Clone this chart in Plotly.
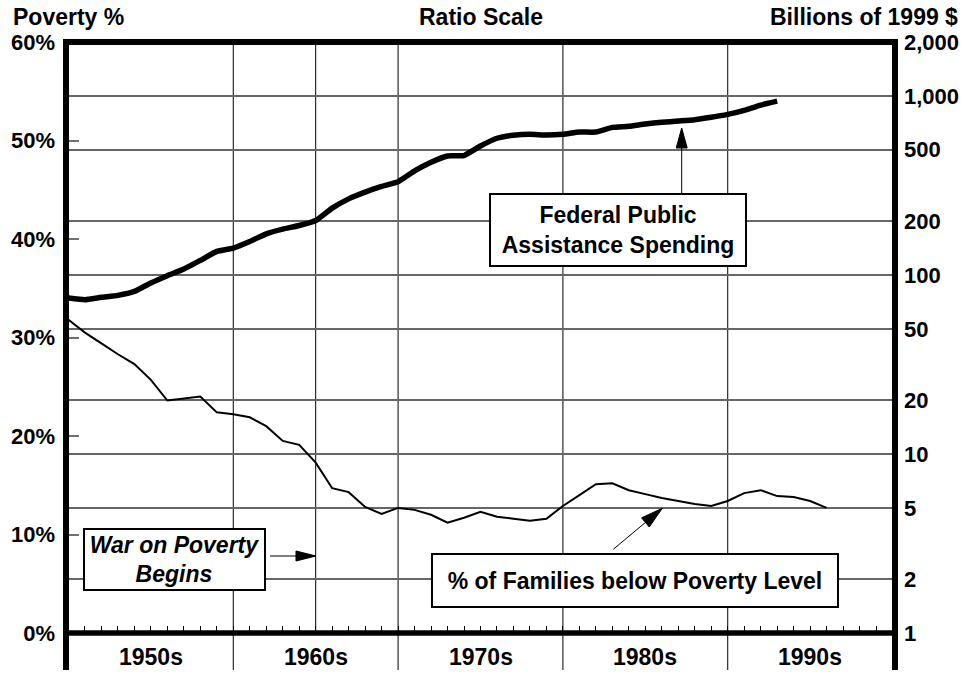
import math
import plotly.graph_objects as go

# ---------------- data ----------------
years_poverty = list(range(1950, 1997))
poverty_pct = [31.8, 30.5, 29.4, 28.3, 27.3, 25.7, 23.6, 23.8, 24.0, 22.4,
               22.2, 21.9, 21.0, 19.5, 19.1, 17.3, 14.7, 14.3, 12.8, 12.1,
               12.7, 12.5, 12.0, 11.2, 11.7, 12.3, 11.8, 11.6, 11.4, 11.6,
               12.9, 14.0, 15.1, 15.2, 14.5, 14.1, 13.7, 13.4, 13.1, 12.9,
               13.4, 14.2, 14.5, 13.9, 13.8, 13.4, 12.7]

years_spending = list(range(1950, 1994))
spending_bn = [74.3, 72.7, 75.0, 76.9, 80.9, 90.2, 99.0, 107.9, 120.5, 135.3,
               141.3, 153.8, 169.7, 180.3, 188.8, 201.3, 236, 266, 290, 312,
               332, 381, 426, 462, 464, 525, 580, 603, 610, 604,
               610, 628, 628, 667, 676, 697, 712, 724, 736, 759,
               788, 830, 889, 935]

left_tickvals = [0, 10, 20, 30, 40, 50, 60]
left_ticktext = ["0%", "10%", "20%", "30%", "40%", "50%", "60%"]
right_tickvals = [1, 2, 5, 10, 20, 50, 100, 200, 500, 1000, 2000]
right_ticktext = ["1", "2", "5", "10", "20", "50", "100", "200", "500", "1,000", "2,000"]
decade_centers = [1955, 1965, 1975, 1985, 1995]
decade_labels = ["1950s", "1960s", "1970s", "1980s", "1990s"]
decade_bounds = [1960, 1970, 1980, 1990]
war_on_poverty_year = 1965

# ---------------- layout geometry ----------------
W, H = 965, 674
L, R, T, B = 66, 70, 42, 41
PW = W - L - R
PH = H - T - B
FONT = "Liberation Sans, Arial, Helvetica, sans-serif"
FS = 22      # tick labels
FA = 23      # header / box texts


def px(x):
    return (x - L) / PW


def py(y):
    return (H - B - y) / PH


fig = go.Figure()
fig.add_trace(go.Scatter(x=years_poverty, y=poverty_pct, mode="lines",
                         line=dict(color="black", width=2), yaxis="y",
                         hoverinfo="skip"))
fig.add_trace(go.Scatter(x=years_spending, y=spending_bn, mode="lines",
                         line=dict(color="black", width=5.5, shape="spline", smoothing=0.4),
                         yaxis="y2", hoverinfo="skip"))

shapes = []
# vertical grid / decade separators
for d in decade_bounds:
    shapes.append(dict(type="line", xref="x", yref="paper", x0=d, x1=d,
                       y0=py(670), y1=1, line=dict(color="black", width=1), layer="below"))
shapes.append(dict(type="line", xref="x", yref="paper", x0=war_on_poverty_year,
                   x1=war_on_poverty_year, y0=0, y1=1,
                   line=dict(color="black", width=1), layer="below"))
# frame
shapes.append(dict(type="line", xref="paper", yref="paper", x0=0, x1=0,
                   y0=py(670), y1=py(39), line=dict(color="black", width=6)))
shapes.append(dict(type="line", xref="paper", yref="paper", x0=1, x1=1,
                   y0=py(670), y1=py(39), line=dict(color="black", width=6)))
shapes.append(dict(type="line", xref="paper", yref="paper", x0=px(63), x1=px(898),
                   y0=1, y1=1, line=dict(color="black", width=6)))
shapes.append(dict(type="line", xref="paper", yref="paper", x0=px(63), x1=px(898),
                   y0=0, y1=0, line=dict(color="black", width=5.5)))


def arrow(x0, y0, x1, y1, head_len, half_w):
    dx, dy = x1 - x0, y1 - y0
    n = math.hypot(dx, dy)
    ux, uy = dx / n, dy / n
    bx, by = x1 - ux * head_len, y1 - uy * head_len
    pxp, pyp = -uy * half_w, ux * half_w
    out = [dict(type="line", xref="paper", yref="paper", x0=px(x0), y0=py(y0),
                x1=px(bx + ux * 2), y1=py(by + uy * 2), line=dict(color="black", width=1))]
    path = "M {:.5f},{:.5f} L {:.5f},{:.5f} L {:.5f},{:.5f} Z".format(
        px(x1), py(y1), px(bx + pxp), py(by + pyp), px(bx - pxp), py(by - pyp))
    out.append(dict(type="path", xref="paper", yref="paper", path=path,
                    fillcolor="black", line=dict(color="black", width=1)))
    return out


shapes += arrow(681.7, 193.3, 681.7, 128, 20, 5.5)
shapes += arrow(613.3, 549.3, 662.3, 508.3, 22, 6)
shapes += arrow(270, 556, 316, 556, 20, 5)

annotations = []
# header texts
annotations.append(dict(text="<b>Poverty %</b>", xref="paper", yref="paper", x=px(11),
                        y=py(17), xanchor="left", yanchor="middle", showarrow=False,
                        font=dict(family=FONT, size=FA, color="black")))
annotations.append(dict(text="<b>Ratio Scale</b>", xref="paper", yref="paper", x=px(481),
                        y=py(17), xanchor="center", yanchor="middle", showarrow=False,
                        font=dict(family=FONT, size=FA, color="black")))
annotations.append(dict(text="<b>Billions of 1999 $</b>", xref="paper", yref="paper",
                        x=px(960), y=py(17), xanchor="right", yanchor="middle",
                        showarrow=False, font=dict(family=FONT, size=FA, color="black")))
# decade labels
for xc, lab in zip(decade_centers, decade_labels):
    annotations.append(dict(text="<b>%s</b>" % lab, xref="x", yref="paper", x=xc,
                            y=py(657), xanchor="center", yanchor="middle",
                            showarrow=False, font=dict(family=FONT, size=FA, color="black")))
# boxed labels
annotations.append(dict(text="<b>Federal Public<br>Assistance Spending</b>", xref="paper",
                        yref="paper", x=px(618.3), y=py(230.3), xanchor="center",
                        yanchor="middle", showarrow=False, width=254, height=70,
                        bgcolor="white", bordercolor="black", borderwidth=2, borderpad=0,
                        font=dict(family=FONT, size=FA, color="black")))
annotations.append(dict(text="<b>% of Families below Poverty Level</b>", xref="paper",
                        yref="paper", x=px(635), y=py(580.8), xanchor="center",
                        yanchor="middle", showarrow=False, width=404, height=51,
                        bgcolor="white", bordercolor="black", borderwidth=2, borderpad=0,
                        font=dict(family=FONT, size=FA, color="black")))
annotations.append(dict(text="<b><i>War on Poverty<br>Begins</i></b>", xref="paper",
                        yref="paper", x=px(174.3), y=py(559.6), xanchor="center",
                        yanchor="middle", showarrow=False, width=179, height=59,
                        bgcolor="white", bordercolor="black", borderwidth=2, borderpad=0,
                        font=dict(family=FONT, size=FA, color="black")))

fig.update_layout(
    width=W, height=H,
    margin=dict(l=L, r=R, t=T, b=B, autoexpand=False),
    paper_bgcolor="white", plot_bgcolor="white",
    showlegend=False,
    xaxis=dict(range=[1949.85, 2000.15], tickmode="array",
               tickvals=list(range(1950, 2001)), showticklabels=False,
               ticks="inside", ticklen=7, tickwidth=1, tickcolor="black",
               showgrid=False, zeroline=False, showline=False, fixedrange=True),
    yaxis=dict(range=[0, 60], tickmode="array", tickvals=left_tickvals,
               ticktext=left_ticktext, ticks="inside", ticklen=13, tickwidth=1.5,
               tickcolor="#707070", showgrid=False, zeroline=False, showline=False,
               ticklabelstandoff=10,
               tickfont=dict(family=FONT, size=FS, color="black", weight="bold")),
    yaxis2=dict(type="log", range=[0, math.log10(2000)], overlaying="y", side="right",
                tickmode="array", tickvals=right_tickvals, ticktext=right_ticktext,
                ticks="", showgrid=True, gridcolor="#666666", gridwidth=1.5,
                zeroline=False, showline=False, ticklabelstandoff=8,
                tickfont=dict(family=FONT, size=FS, color="black", weight="bold")),
    shapes=shapes,
    annotations=annotations,
)

fig.write_html("out.html", config={"displayModeBar": False},
               post_script="document.body.style.margin='0';"
                           "document.body.style.padding='0';"
                           "document.body.style.overflow='hidden';")
